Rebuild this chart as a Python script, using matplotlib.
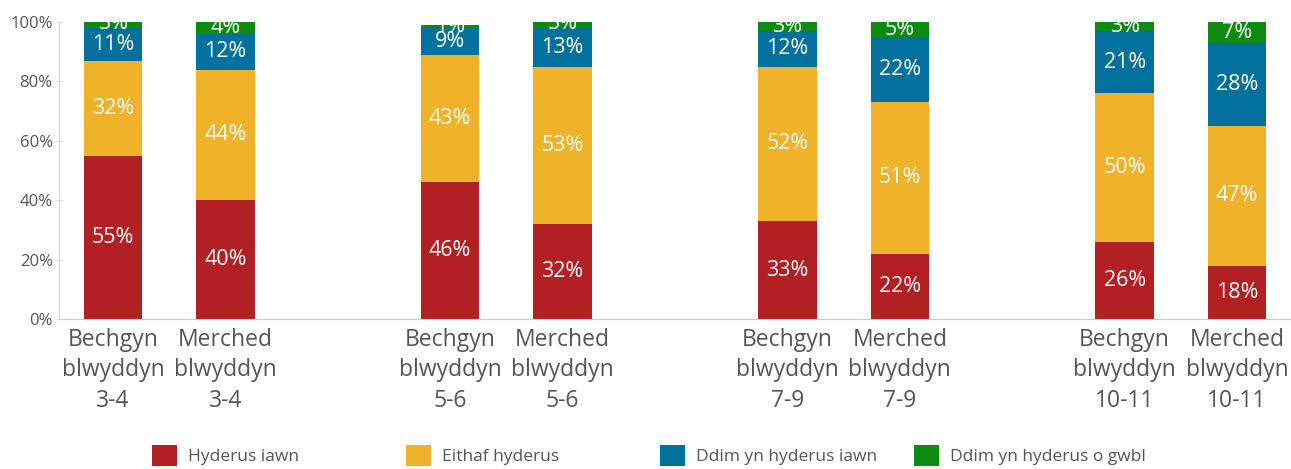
import numpy as np
import matplotlib.pyplot as plt
from matplotlib.patches import Patch

plt.rcParams['font.family'] = ['Open Sans', 'DejaVu Sans']

groups = ['Bechgyn\nblwyddyn\n3-4', 'Merched\nblwyddyn\n3-4',
          'Bechgyn\nblwyddyn\n5-6', 'Merched\nblwyddyn\n5-6',
          'Bechgyn\nblwyddyn\n7-9', 'Merched\nblwyddyn\n7-9',
          'Bechgyn\nblwyddyn\n10-11', 'Merched\nblwyddyn\n10-11']

hyderus_iawn = [55, 40, 46, 32, 33, 22, 26, 18]
eithaf_hyderus = [32, 44, 43, 53, 52, 51, 50, 47]
ddim_iawn = [11, 12, 9, 13, 12, 22, 21, 28]
ddim_o_gwbl = [3, 4, 1, 3, 3, 5, 3, 7]

series = [
    ('Hyderus iawn', hyderus_iawn, '#b22024'),
    ('Eithaf hyderus', eithaf_hyderus, '#efb228'),
    ('Ddim yn hyderus iawn', ddim_iawn, '#00719c'),
    ('Ddim yn hyderus o gwbl', ddim_o_gwbl, '#0e8a0e'),
]

# pairs of bars with a one-slot gap between year groups
x = np.array([0, 1, 3, 4, 6, 7, 9, 10])

fig = plt.figure(figsize=(12.91, 4.69), dpi=100)
ax = fig.add_axes([0.0457, 0.3198, 0.9543, 0.6333])

bottom = np.zeros(len(x))
for name, vals, color in series:
    vals = np.array(vals, dtype=float)
    ax.bar(x, vals, width=0.52, bottom=bottom, color=color, label=name, zorder=2)
    for xi, b, v in zip(x, bottom, vals):
        ax.text(xi, b + v / 2, f'{int(v)}%', ha='center', va='center',
                color='white', fontsize=15.5, clip_on=True, zorder=3)
    bottom += vals

ax.set_xlim(-0.48, 10.48)
ax.set_ylim(0, 100)
ax.set_yticks([0, 20, 40, 60, 80, 100])
ax.set_yticklabels([f'{t}%' for t in range(0, 101, 20)])
ax.set_xticks(x)
ax.set_xticklabels(groups, fontsize=16.5, color='#555555', linespacing=1.35)
ax.tick_params(axis='x', length=0, pad=6.5)
ax.tick_params(axis='y', length=5, direction='inout', color='#d9d9d9',
               labelsize=12, labelcolor='#555555', pad=2)

for s in ['top', 'right']:
    ax.spines[s].set_visible(False)
ax.spines['left'].set_color('#d9d9d9')
ax.spines['bottom'].set_color('#cccccc')

# legend entries evenly spaced along the bottom
lx = [152, 406, 660, 914]
for px, (name, vals, color) in zip(lx, series):
    fig.legend(handles=[Patch(facecolor=color, edgecolor='none')], labels=[name],
               loc='upper left', bbox_to_anchor=(px / 1291, 1 - 445 / 469),
               frameon=False, fontsize=12.5, handlelength=1.45, handleheight=1.45,
               handletextpad=0.65, borderpad=0, borderaxespad=0,
               labelcolor='#555555')

fig.savefig('out.png', dpi=100)
